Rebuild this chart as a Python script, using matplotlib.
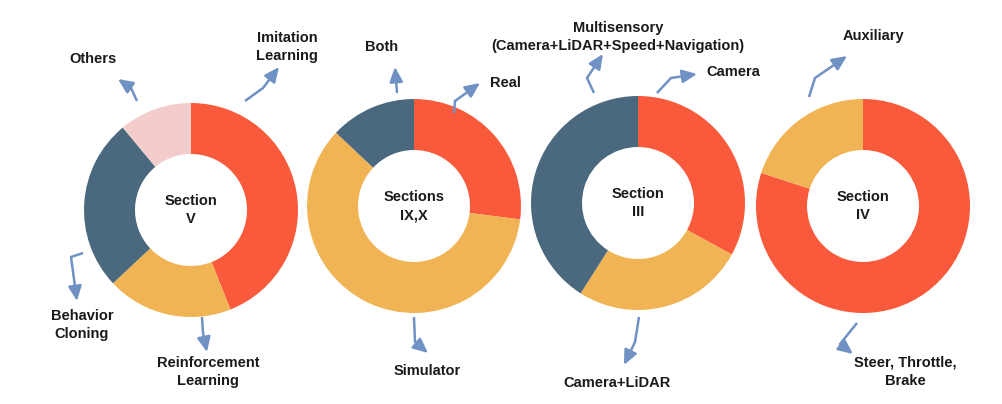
import matplotlib.pyplot as plt

plt.rcParams['font.family'] = ['Liberation Sans', 'DejaVu Sans']

# data
titles = ["Section\nV", "Sections\nIX,X", "Section\nIII", "Section\nIV"]
labels_v = ["Imitation\nLearning", "Reinforcement\nLearning", "Behavior\nCloning", "Others"]
values_v = [44, 19, 26, 11]
labels_ix = ["Real", "Simulator", "Both"]
values_ix = [27, 60, 13]
labels_iii = ["Camera", "Camera+LiDAR", "Multisensory\n(Camera+LiDAR+Speed+Navigation)"]
values_iii = [33, 26, 41]
labels_iv = ["Steer, Throttle,\nBrake", "Auxiliary"]
values_iv = [80, 20]

red = '#FA5A3C'
yellow = '#F0B455'
dark = '#4A697E'
pink = '#F4CCCC'
arrow_c = '#6F91C4'

# layout (pixel coords, y down)
centers = [(191, 210), (414, 206), (638, 203), (863, 206)]
r_out = 107
r_in = 56
colors = [[red, yellow, dark, pink], [red, yellow, dark], [red, yellow, dark], [red, yellow]]
all_values = [values_v, values_ix, values_iii, values_iv]
all_labels = [labels_v, labels_ix, labels_iii, labels_iv]

# arrow polylines and label placements per slice: (path, (x, y), ha)
callouts = [
    [([(245, 101), (263, 88), (279, 67)], (287, 47), 'center'),
     ([(202, 317), (203, 333), (207, 352)], (208, 372), 'center'),
     ([(83, 253), (71, 257), (77, 301)], (82, 325), 'center'),
     ([(137, 101), (131, 88), (118, 79)], (93, 59), 'center')],
    [([(454, 113), (455, 101), (480, 83)], (490, 83), 'left'),
     ([(414, 317), (415, 342), (428, 353)], (427, 371), 'center'),
     ([(397, 92), (395, 67)], (382, 47), 'center')],
    [([(657, 93), (671, 78), (697, 74)], (706, 72), 'left'),
     ([(639, 317), (635, 342), (624, 365)], (617, 383), 'center'),
     ([(594, 93), (587, 78), (603, 54)], (618, 37), 'center')],
    [([(857, 323), (840, 344), (844, 347), (853, 354)], (905, 372), 'center'),
     ([(809, 97), (815, 78), (847, 56)], (873, 36), 'center')],
]

fig = plt.figure(figsize=(10.02, 4.04), dpi=100)
ax = fig.add_axes([0, 0, 1, 1])
ax.set_xlim(0, 1002)
ax.set_ylim(404, 0)
ax.set_aspect('equal')
ax.axis('off')

for i in range(4):
    ax.pie(all_values[i], colors=colors[i], center=centers[i], radius=r_out,
           startangle=-90, counterclock=True,
           wedgeprops=dict(width=r_out - r_in, edgecolor='none'))
    ax.text(centers[i][0], centers[i][1], titles[i], ha='center', va='center',
            fontsize=10.5, fontweight='bold', color='#1a1a1a', linespacing=1.4)
    for lab, (path, pos, ha) in zip(all_labels[i], callouts[i]):
        xs = [p[0] for p in path]
        ys = [p[1] for p in path]
        ax.plot(xs[:-1], ys[:-1], color=arrow_c, lw=1.8, solid_capstyle='butt')
        ax.annotate('', xy=path[-1], xytext=path[-2],
                    arrowprops=dict(arrowstyle='-|>,head_length=0.55,head_width=0.25',
                                    color=arrow_c, lw=1.8,
                                    mutation_scale=16, shrinkA=0, shrinkB=0))
        ax.text(pos[0], pos[1], lab, ha=ha, va='center', fontsize=10.5,
                fontweight='bold', color='#1a1a1a', linespacing=1.4)

ax.set_xlim(0, 1002)
ax.set_ylim(404, 0)
fig.savefig('out.png', dpi=100)
